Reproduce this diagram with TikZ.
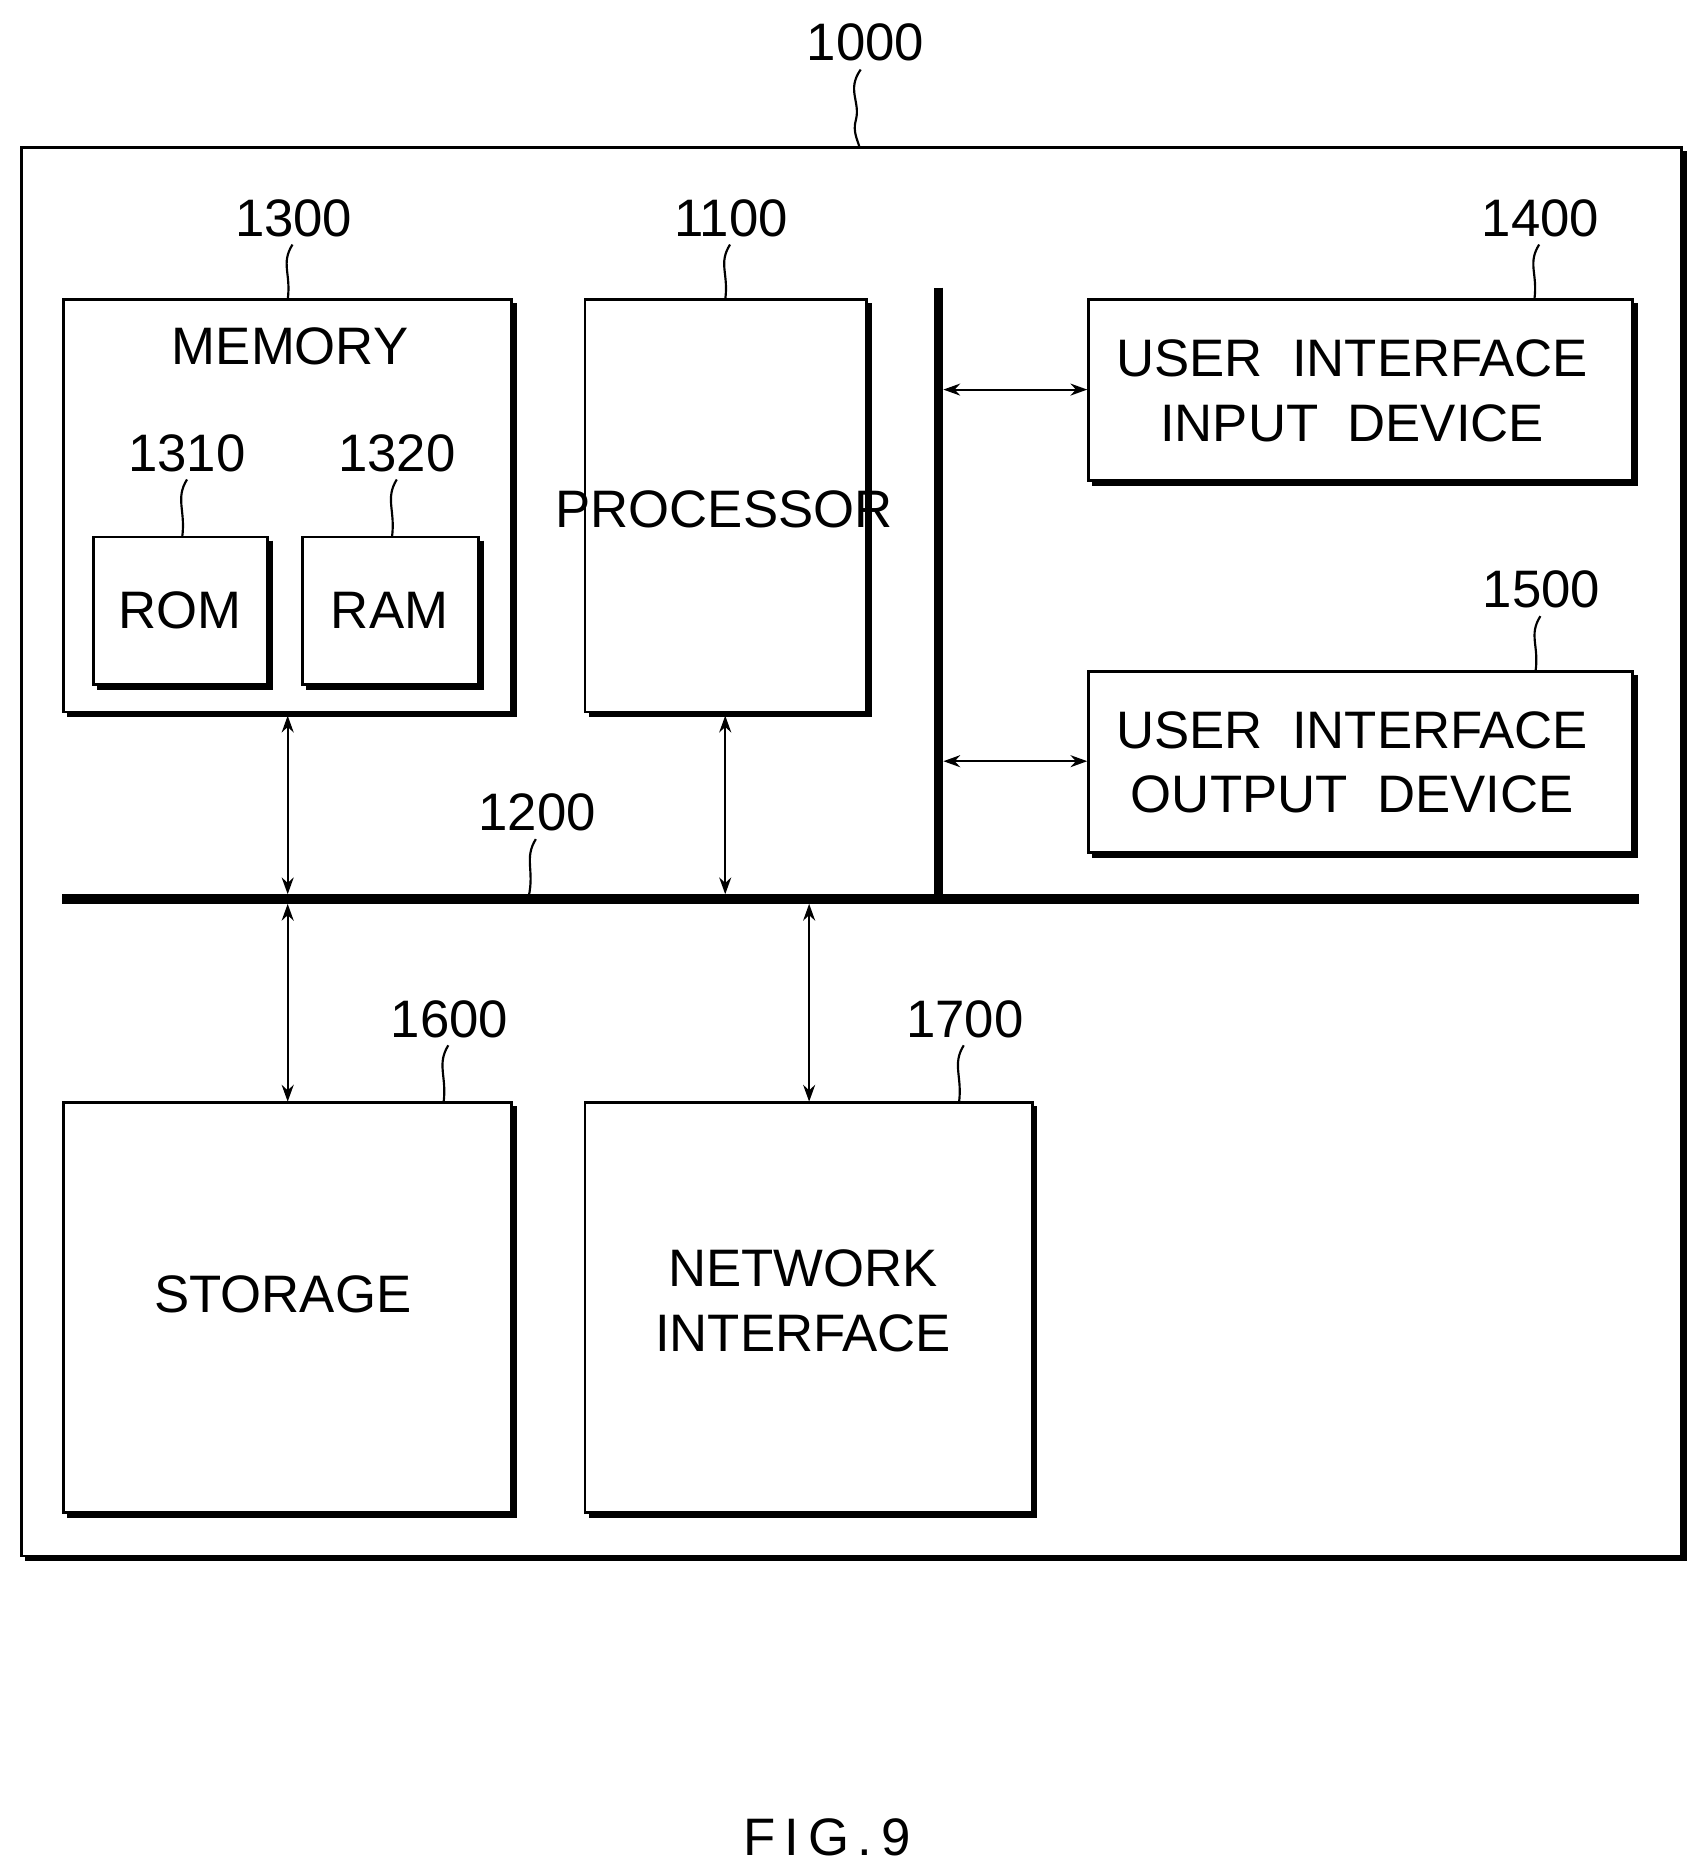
\documentclass[tikz,border=0pt]{standalone}
\usepackage{fontspec}
\setmainfont{Liberation Sans}
\usetikzlibrary{arrows.meta}
\begin{document}
\begin{tikzpicture}[x=0.5pt,y=-0.5pt,
  box/.style={draw,line width=1.2pt,rectangle},
  txt/.style={font=\fontsize{22}{27}\selectfont,align=center,inner sep=0},
  lbl/.style={font=\fontsize{22}{27}\selectfont,inner sep=0},
  bus/.style={line width=4pt},
  arr/.style={line width=0.9pt,{Stealth[length=7pt,width=5pt]}-{Stealth[length=7pt,width=5pt]}},
  sq/.style={line width=0.9pt}]
\useasboundingbox (0,0) rectangle (1420,1565);
\newcommand{\shbox}[5]{% name, x1,y1,x2,y2
  \draw[line width=1.2pt] (#2,#3) rectangle (#4,#5);
  \draw[line width=2.4pt] (#4+2,#3+3) -- (#4+2,#5+2) -- (#2+3,#5+2);
  \coordinate (#1) at ({(#2+#4)/2},{(#3+#5)/2});}
\newcommand{\squig}[2]{% top point, bottom point
  \draw[sq] (#1) .. controls +(-10,10) and +(0,-8) .. ($ (#1)!0.5!(#2) $) .. controls +(0,8) and +(-8,-10) .. (#2);}
% outer
\shbox{outer}{18}{123}{1403}{1298}
\node[lbl] (l1000) at (722,35) {1000};
\draw[sq] (718,58) .. controls (706,75) and (718,85) .. (714,100) .. controls (711,110) and (716,118) .. (717,123);
% memory
\shbox{mem}{53}{250}{427}{594}
\node[txt] (memt) at (242,289) {MEMORY};
\node[lbl] (l1300) at (245,182) {1300};
\draw[sq] (244,204) .. controls (234,220) and (243,228) .. (240,250);
\shbox{rom}{78}{448}{223}{571}
\node[txt] (romt) at (150,509) {ROM};
\node[lbl] (l1310) at (156,378) {1310};
\draw[sq] (156,400) .. controls (146,416) and (155,426) .. (152,448);
\shbox{ram}{252}{448}{399}{571}
\node[txt] (ramt) at (325,509) {RAM};
\node[lbl] (l1320) at (331,378) {1320};
\draw[sq] (331,400) .. controls (321,416) and (330,426) .. (327,448);
% processor
\shbox{proc}{488}{250}{723}{594}
\node[txt] (proct) at (604,425) {PROCESSOR};
\node[lbl] (l1100) at (610,182) {1100};
\draw[sq] (609,204) .. controls (599,220) and (608,228) .. (605,250);
% UI input/output
\shbox{uiin}{908}{250}{1362}{401}
\node[txt] (uiint) at (1128,326) {USER\ \ INTERFACE\\INPUT\ \ DEVICE};
\node[lbl] (l1400) at (1285,182) {1400};
\draw[sq] (1284,204) .. controls (1274,220) and (1283,228) .. (1280,250);
\shbox{uiout}{908}{560}{1362}{711}
\node[txt] (uioutt) at (1128,636) {USER\ \ INTERFACE\\OUTPUT\ \ DEVICE};
\node[lbl] (l1500) at (1286,492) {1500};
\draw[sq] (1285,514) .. controls (1275,530) and (1284,538) .. (1281,560);
% buses
\coordinate (vb1) at (783,240); \coordinate (vb2) at (783,748);
\coordinate (hb1) at (52,750); \coordinate (hb2) at (1367,750);
\draw[bus] (vb1) -- (vb2);
\draw[bus] (hb1) -- (hb2);
\node[lbl] (l1200) at (448,678) {1200};
\draw[sq] (447,700) .. controls (437,716) and (446,726) .. (441,748);
% arrows
\coordinate (a1) at (787,325); \coordinate (a2) at (907,325);
\draw[arr] (a1) -- (a2);
\coordinate (b1) at (787,635); \coordinate (b2) at (907,635);
\draw[arr] (b1) -- (b2);
\coordinate (c1) at (240,597); \coordinate (c2) at (240,746);
\draw[arr] (c1) -- (c2);
\coordinate (d1) at (605,597); \coordinate (d2) at (605,746);
\draw[arr] (d1) -- (d2);
\coordinate (e1) at (240,754); \coordinate (e2) at (240,919);
\draw[arr] (e1) -- (e2);
\coordinate (f1) at (675,754); \coordinate (f2) at (675,919);
\draw[arr] (f1) -- (f2);
% storage, network
\shbox{stor}{53}{920}{427}{1262}
\node[txt] (stort) at (236,1080) {STORAGE};
\node[lbl] (l1600) at (375,850) {1600};
\draw[sq] (374,872) .. controls (364,888) and (373,898) .. (370,920);
\shbox{net}{488}{920}{861}{1262}
\node[txt] (nett) at (670,1085) {NETWORK\\INTERFACE};
\node[lbl] (l1700) at (805,850) {1700};
\draw[sq] (804,872) .. controls (794,888) and (803,898) .. (800,920);
\node[lbl] (fig) at (690,1533) {F\,I\,G\,.\,9};
\end{tikzpicture}
\end{document}
